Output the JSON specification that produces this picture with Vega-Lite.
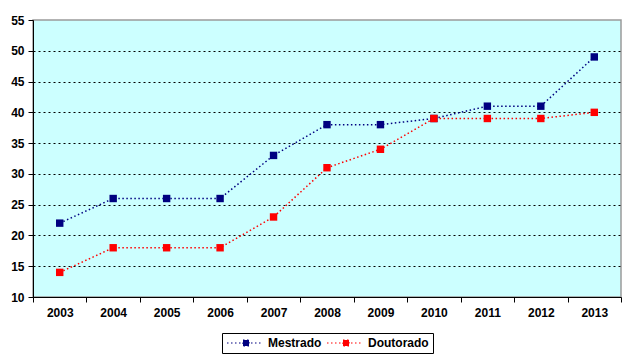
{
  "$schema": "https://vega.github.io/schema/vega-lite/v6.json",
  "width": 588,
  "height": 277,
  "autosize": {"type": "none"},
  "padding": {"left": 33, "top": 20, "right": 19, "bottom": 65},
  "background": "white",
  "config": {
    "font": "Liberation Sans",
    "view": {"fill": "#CCFFFF", "stroke": "#9a9a9a", "strokeWidth": 1.5},
    "axis": {
      "labelFont": "Liberation Sans",
      "labelFontWeight": "bold",
      "labelFontSize": 12,
      "labelColor": "black",
      "domainColor": "black",
      "domainWidth": 1,
      "tickColor": "black",
      "title": null
    }
  },
  "data": {
    "values": [
      {"year": "2003", "serie": "Mestrado", "value": 22},
      {"year": "2004", "serie": "Mestrado", "value": 26},
      {"year": "2005", "serie": "Mestrado", "value": 26},
      {"year": "2006", "serie": "Mestrado", "value": 26},
      {"year": "2007", "serie": "Mestrado", "value": 33},
      {"year": "2008", "serie": "Mestrado", "value": 38},
      {"year": "2009", "serie": "Mestrado", "value": 38},
      {"year": "2010", "serie": "Mestrado", "value": 39},
      {"year": "2011", "serie": "Mestrado", "value": 41},
      {"year": "2012", "serie": "Mestrado", "value": 41},
      {"year": "2013", "serie": "Mestrado", "value": 49},
      {"year": "2003", "serie": "Doutorado", "value": 14},
      {"year": "2004", "serie": "Doutorado", "value": 18},
      {"year": "2005", "serie": "Doutorado", "value": 18},
      {"year": "2006", "serie": "Doutorado", "value": 18},
      {"year": "2007", "serie": "Doutorado", "value": 23},
      {"year": "2008", "serie": "Doutorado", "value": 31},
      {"year": "2009", "serie": "Doutorado", "value": 34},
      {"year": "2010", "serie": "Doutorado", "value": 39},
      {"year": "2011", "serie": "Doutorado", "value": 39},
      {"year": "2012", "serie": "Doutorado", "value": 39},
      {"year": "2013", "serie": "Doutorado", "value": 40}
    ]
  },
  "encoding": {
    "x": {
      "field": "year", "type": "ordinal",
      "bandPosition": 0.5,
      "scale": {"type": "band", "paddingInner": 0, "paddingOuter": 0},
      "axis": {
        "labelAngle": 0, "tickBand": "extent", "tickSize": 5, "grid": false,
        "labelPadding": 5
      }
    },
    "y": {
      "field": "value", "type": "quantitative",
      "scale": {"domain": [10, 55], "nice": false, "zero": false},
      "axis": {
        "values": [10, 15, 20, 25, 30, 35, 40, 45, 50, 55],
        "grid": true, "gridColor": "black", "gridDash": [2, 3], "gridWidth": 1,
        "gridOpacity": {"condition": {"test": "datum.value == 55 || datum.value == 10", "value": 0}, "value": 1},
        "tickSize": 5, "labelPadding": 4
      }
    },
    "color": {
      "field": "serie", "type": "nominal",
      "scale": {"domain": ["Mestrado", "Doutorado"], "range": ["#000080", "#FF0000"]},
      "legend": {
        "title": null,
        "orient": "none",
        "legendX": 189,
        "legendY": 313,
        "direction": "horizontal",
        "strokeColor": "black",
        "fillColor": "white",
        "padding": 4,
        "columnPadding": 2,
        "labelFont": "Liberation Sans",
        "labelFontWeight": "bold",
        "labelFontSize": 12,
        "labelColor": "black",
        "labelOffset": 30,
        "symbolType": "M-1,0H6M2.2,-0.6H3.4V0.6H2.2Z",
        "symbolSize": 100,
        "symbolStrokeWidth": 1.2,
        "symbolDash": [1.5, 2.5],
        "encode": {
          "symbols": {
            "update": {
              "stroke": {"scale": "color", "field": "value"},
              "fill": {"scale": "color", "field": "value"},
              "opacity": {"value": 1}
            }
          }
        }
      }
    }
  },
  "layer": [
    {
      "mark": {"type": "line", "strokeDash": [1.5, 2.5], "strokeWidth": 1.5}
    },
    {
      "mark": {"type": "point", "shape": "square", "filled": true, "size": 55, "opacity": 1}
    }
  ]
}
